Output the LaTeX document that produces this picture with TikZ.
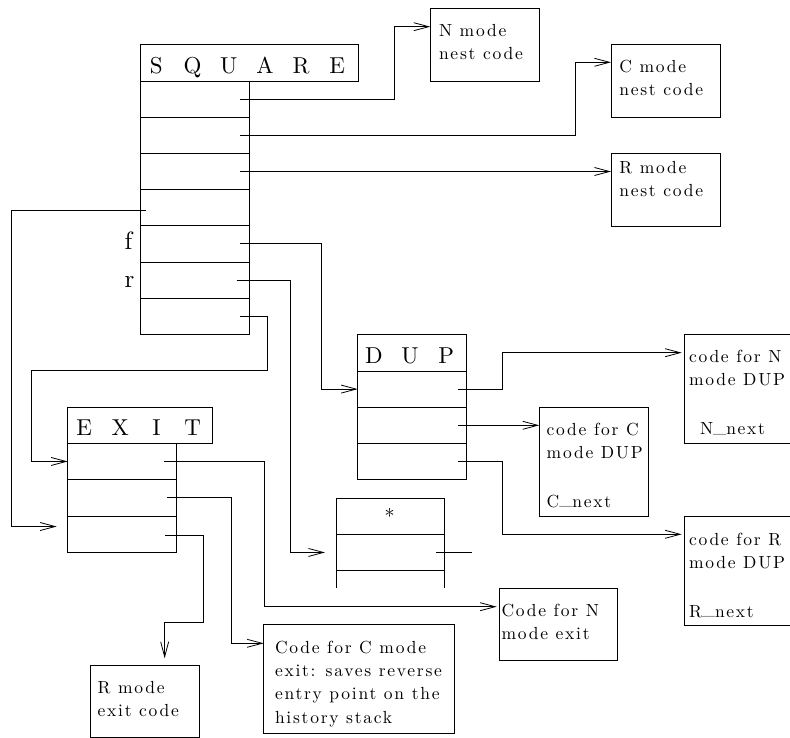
\documentclass[tikz,border=0pt]{standalone}
\usepackage{fontspec}
\setmainfont{lmroman10-regular}[Extension=.otf]
\newfontfamily\bodyfam{lmroman10-regular}[Extension=.otf, LetterSpace=10]
\usetikzlibrary{arrows.meta}
\newcommand\bodyfont{\bodyfam\fontsize{17.5}{23.3}\selectfont}
\newcommand\headfont{\fontsize{23}{28}\selectfont}
\newcommand\labelfont{\fontsize{25}{30}\selectfont}
\newcommand\usc{\raisebox{2.3pt}{\_}}
\newcommand\hl[1]{\makebox[36.2pt]{#1}}
\tikzset{
  cell/.style={draw, rectangle, anchor=north west, inner sep=0pt, outer sep=0pt, minimum width=109pt, minimum height=36.2pt},
  box/.style={draw, rectangle, anchor=north west, inner sep=0pt, outer sep=0pt},
  txt/.style={anchor=base west, inner sep=0pt, outer sep=0pt},
  head/.style={anchor=base west, inner sep=0pt, outer sep=0pt, font=\headfont},
  lbl/.style={anchor=base, inner sep=0pt, outer sep=0pt, font=\labelfont},
  ptr/.style={-{Straight Barb[length=15pt,width=8pt]}},
}
\begin{document}
\begin{tikzpicture}[x=1pt, y=-1pt, line width=0.8pt]
\useasboundingbox (0,0) rectangle (790,738);
\clip (0,0) rectangle (790,738);

% SQUARE
\node[cell, minimum width=218pt, minimum height=36.7pt] (sqh) at (140.3,44.3) {};
\node[cell] (sq1) at (140.3,81) {};
\node[cell] (sq2) at (140.3,117.2) {};
\node[cell] (sq3) at (140.3,153.4) {};
\node[cell] (sq4) at (140.3,189.6) {};
\node[cell] (sq5) at (140.3,225.8) {};
\node[cell] (sq6) at (140.3,262) {};
\node[cell] (sq7) at (140.3,298.2) {};
\node[head] (sqt) at (138.2,73.3) {\hl{S}\hl{Q}\hl{U}\hl{A}\hl{R}\hl{E}};
\node[lbl] (lf) at (128.5,250) {f};
\node[lbl] (lr) at (129.5,287.3) {r};

% DUP
\node[cell, minimum height=36.3pt] (duph) at (357.7,334.7) {};
\node[cell] (dup1) at (357.7,371) {};
\node[cell] (dup2) at (357.7,407.2) {};
\node[cell] (dup3) at (357.7,443.4) {};
\node[head] (dupt) at (355.7,363.3) {\hl{D}\hl{U}\hl{P}};

% EXIT
\node[cell, minimum width=145pt, minimum height=36pt] (exh) at (67.7,407.3) {};
\node[cell, minimum height=36.33pt] (ex1) at (67.7,443.3) {};
\node[cell, minimum height=36.33pt] (ex2) at (67.7,479.63) {};
\node[cell, minimum height=36.33pt] (ex3) at (67.7,515.96) {};
\node[head] (ext) at (66,435.7) {\hl{E}\hl{X}\hl{I}\hl{T}};

% star record
\node[cell, minimum width=108.7pt, minimum height=36.3pt] (st1) at (336,498) {};
\node[cell, minimum width=108.7pt, minimum height=36.3pt] (st2) at (336,534.3) {};
\node[anchor=base, inner sep=0pt, font=\fontsize{20}{24}\selectfont] (stt) at (389.5,523.7) {*};
\draw (st2.south west) -- ++(0,17.7);
\draw (st2.south east) -- ++(0,17.7);

% code boxes
\node[box, minimum width=108.7pt, minimum height=72.7pt] (nmode) at (430.3,8.3) {};
\node[box, minimum width=109.7pt, minimum height=72.7pt] (cmode) at (611,44.3) {};
\node[box, minimum width=109.7pt, minimum height=72.7pt] (rmode) at (611,153.3) {};
\node[box, minimum width=109pt, minimum height=109pt] (cn) at (684.3,334.7) {};
\node[box, minimum width=109pt, minimum height=108.7pt] (cc) at (539.3,407.3) {};
\node[box, minimum width=109pt, minimum height=109pt] (cr) at (684.3,516) {};
\node[box, minimum width=118pt, minimum height=71.7pt] (nexit) at (499.3,588.3) {};
\node[box, minimum width=190.6pt, minimum height=108.6pt] (cexit) at (263.7,624.7) {};
\node[box, minimum width=109.3pt, minimum height=72pt] (rexit) at (90,665.3) {};

% texts
\node[txt] (tnm) at (439,36.7) {\parbox[t]{100pt}{\bodyfont N mode\\nest code}};
\node[txt] (tcm) at (619.3,72.7) {\parbox[t]{100pt}{\bodyfont C mode\\nest code}};
\node[txt] (trm) at (619.3,173.3) {\parbox[t]{100pt}{\bodyfont R mode\\nest code}};
\node[txt] (tcn) at (689,362.5) {\parbox[t]{110pt}{\bodyfont code for N\\mode DUP\\[25.5pt]\hspace*{11pt}N\usc next}};
\node[txt] (tcc) at (546.7,435) {\parbox[t]{110pt}{\bodyfont code for C\\mode DUP\\[25.5pt]C\usc next}};
\node[txt] (tcr) at (689,545) {\parbox[t]{110pt}{\bodyfont code for R\\mode DUP\\[25.5pt]R\usc next}};
\node[txt] (tne) at (501.5,616) {\parbox[t]{115pt}{\bodyfont Code for N\\mode exit}};
\node[txt] (tce) at (275,653.3) {\parbox[t]{185pt}{\bodyfont Code for C mode\\exit: saves reverse\\entry point on the\\history stack}};
\node[txt] (tre) at (97.7,693.3) {\parbox[t]{100pt}{\bodyfont R mode\\exit code}};

% connectors
\draw[ptr] ([xshift=-9pt]sq1.east) -| ([xshift=-36pt,yshift=-18.4pt]nmode.north west) -- ([yshift=-18.4pt]nmode.north west);
\draw[ptr] ([xshift=-9pt]sq2.east) -| ([xshift=-35.7pt,yshift=-18pt]cmode.north west) -- ([yshift=-18pt]cmode.north west);
\draw[ptr] ([xshift=-9pt]sq3.east) -- (sq3.east -| rmode.west);
\draw[ptr] ([xshift=6pt,yshift=-2.3pt]sq4.west) -| ([xshift=-56pt,yshift=7.6pt]ex3.west) -- ([xshift=-11pt,yshift=7.6pt]ex3.west);
\draw[ptr] ([xshift=-9pt]sq5.east) -| ([xshift=-36.4pt]dup1.west) -- (dup1.west);
\draw[ptr] ([xshift=-12.7pt]sq6.east) -| ([xshift=-45.3pt]st2.west) -- ([xshift=-11pt]st2.west);
\draw[ptr] ([xshift=-9pt]sq7.east) -| ([xshift=18.3pt,yshift=-36.4pt]sq7.south east) -| ([xshift=-36pt]ex1.west) -- (ex1.west);
\draw[ptr] ([xshift=-9pt]dup1.east) -| ([xshift=-181.6pt,yshift=-18pt]cn.north west) -- ([xshift=-2.6pt,yshift=-18pt]cn.north west);
\draw[ptr] ([xshift=-9pt]dup2.east) -- (dup2.east -| cc.west);
\draw[ptr] ([xshift=-9pt]dup3.east) -| ([xshift=-181.6pt,yshift=-18.3pt]cr.north west) -- ([xshift=-2.6pt,yshift=-18.3pt]cr.north west);
\draw ([xshift=-8.7pt]st2.east) -- ([xshift=27.3pt]st2.east);
\draw[ptr] ([xshift=-12.7pt]ex1.east) -| ([xshift=-235.3pt,yshift=-18.4pt]nexit.north west) -- ([xshift=-2.6pt,yshift=-18.4pt]nexit.north west);
\draw[ptr] ([xshift=-9.4pt]ex2.east) -| ([xshift=-32.7pt,yshift=-18.6pt]cexit.north west) -- ([yshift=-18.6pt]cexit.north west);
\draw[ptr] ([xshift=-11.7pt,yshift=-1.5pt]ex3.east) -| ([xshift=4.4pt,yshift=42.6pt]rexit.north east) -| ([xshift=20pt,yshift=7pt]rexit.north);
\end{tikzpicture}
\end{document}
